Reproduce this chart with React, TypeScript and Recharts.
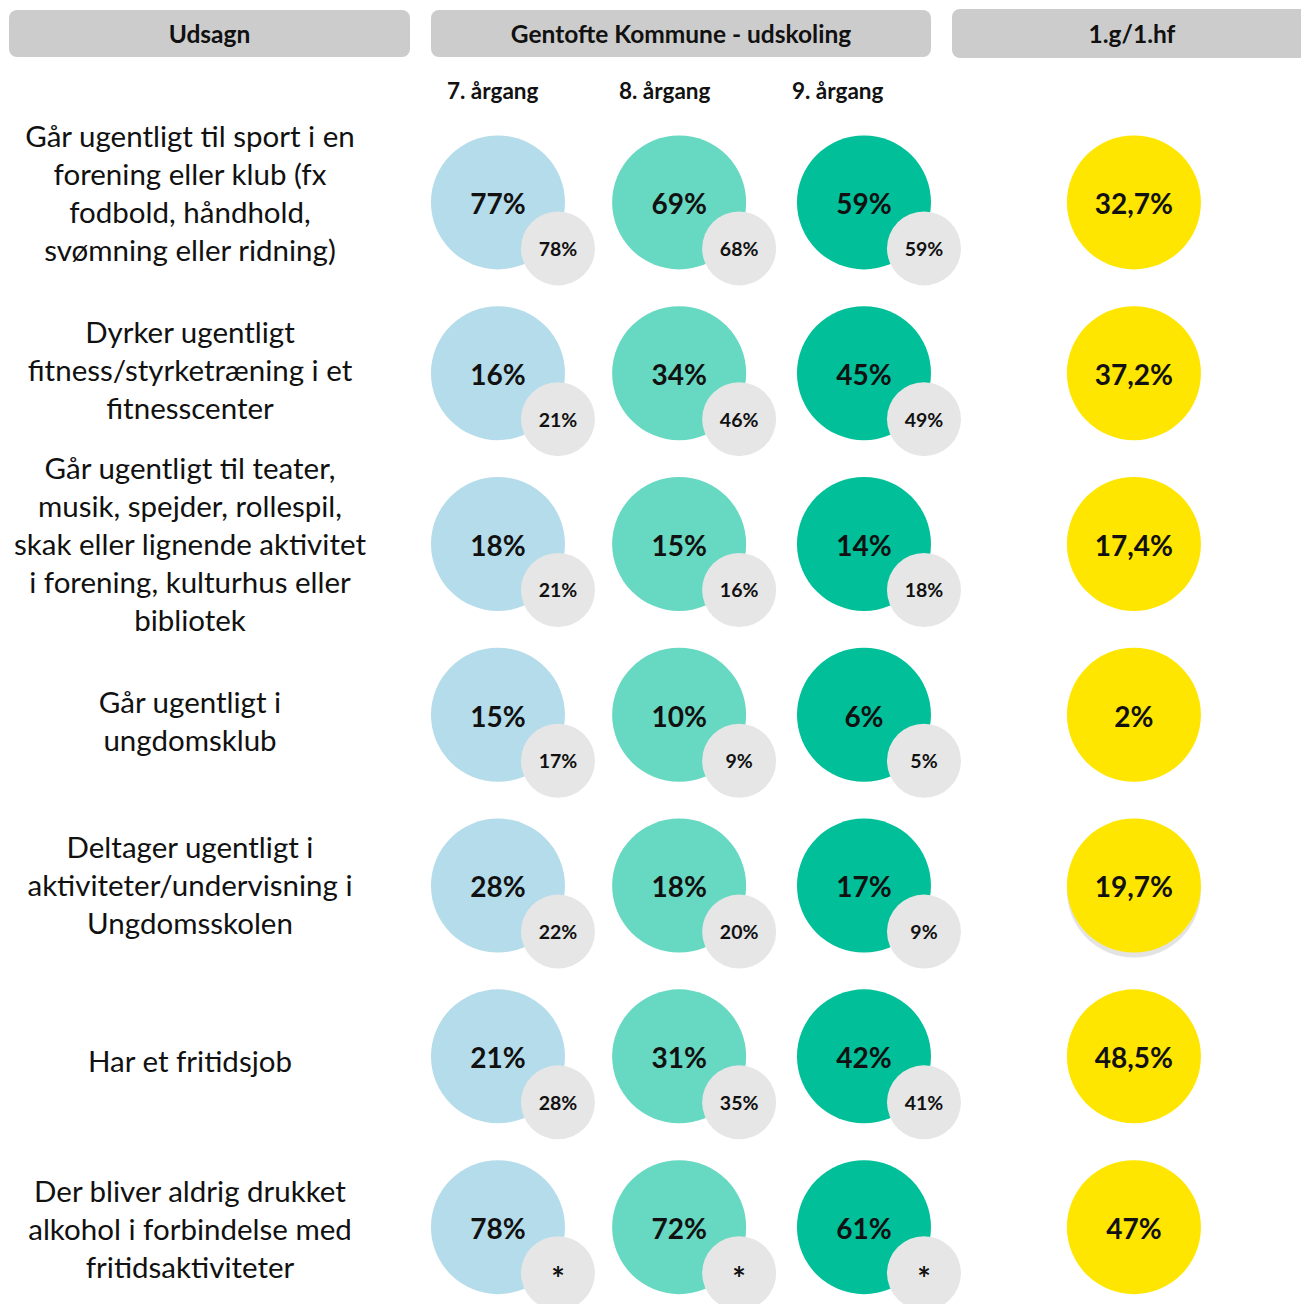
import { ScatterChart, Scatter, XAxis, YAxis } from 'recharts';

// Udsagn (rækker), linjeskift med \n
const statements = [
    'Går ugentligt til sport i en\nforening eller klub (fx\nfodbold, håndhold,\nsvømning eller ridning)',
    'Dyrker ugentligt\nfitness/styrketræning i et\nfitnesscenter',
    'Går ugentligt til teater,\nmusik, spejder, rollespil,\nskak eller lignende aktivitet\ni forening, kulturhus eller\nbibliotek',
    'Går ugentligt i\nungdomsklub',
    'Deltager ugentligt i\naktiviteter/undervisning i\nUngdomsskolen',
    'Har et fritidsjob',
    'Der bliver aldrig drukket\nalkohol i forbindelse med\nfritidsaktiviteter',
];

const grades = ['7. årgang', '8. årgang', '9. årgang'];

// Gentofte Kommune - udskoling (%)
const grade7 = [77, 16, 18, 15, 28, 21, 78];
const grade8 = [69, 34, 15, 10, 18, 31, 72];
const grade9 = [59, 45, 14, 6, 17, 42, 61];

// sammenligningstal (grå cirkler), null = "*"
const compare7 = [78, 21, 21, 17, 22, 28, null];
const compare8 = [68, 46, 16, 9, 20, 35, null];
const compare9 = [59, 49, 18, 5, 9, 41, null];

// 1.g/1.hf (%)
const gymnasium = [32.7, 37.2, 17.4, 2, 19.7, 48.5, 47];

const headers = ['Udsagn', 'Gentofte Kommune - udskoling', '1.g/1.hf'];

const COLORS = ['#b5dcea', '#67d8c1', '#00bf99'];
const YELLOW = '#ffe600';
const GREY = '#e6e6e6';
const FONT = 'Lato, "Open Sans", sans-serif';

// kolonne-placering på x-aksen (enheder, ikke pixels)
const GRADE_SLOTS = [0, 0.99, 2];
const GYM_SLOT = 3.475;

// tekstblokkene i venstre kolonne sidder ikke helt centreret i originalen
const LABEL_NUDGE = [-8, -2, 1, 7, 0, 6, 3];

const fmt = (v: number | null) => (v === null ? '*' : `${String(v).replace('.', ',')}%`);

const toPoints = (values: (number | null)[], slot: number) =>
    values.map((v, i) => ({ x: slot, y: i, label: fmt(v), row: i }));

function BigCircle(fill: string, shadow = false) {
    return (props: any) => {
        const { cx, cy, payload } = props;
        return (
            <g>
                {shadow && payload.row === 4 && <circle cx={cx} cy={cy + 5} r={67} fill="#e3e3e3" />}
                <circle cx={cx} cy={cy} r={67} fill={fill} />
                <text x={cx} y={cy} dy="0.42em" textAnchor="middle" fontFamily={FONT} fontWeight={700} fontSize={28} fill="#111">
                    {payload.label}
                </text>
            </g>
        );
    };
}

function SmallCircle(props: any) {
    const { cx, cy, payload } = props;
    const x = cx + 60;
    const y = cy + 46;
    const star = payload.label === '*';
    return (
        <g>
            <circle cx={x} cy={y} r={37} fill={GREY} />
            <text x={x} y={y} dy={star ? '0.55em' : '0.38em'} textAnchor="middle" fontFamily={FONT} fontWeight={700} fontSize={star ? 32 : 19.5} fill="#111">
                {payload.label}
            </text>
        </g>
    );
}

function StatementTick(props: any) {
    const { y, payload } = props;
    const lines = statements[payload.value].split('\n');
    const lh = 38;
    return (
        <text x={190} y={y + LABEL_NUDGE[payload.value]} textAnchor="middle" fontFamily={FONT} fontSize={29.5} fill="#111">
            {lines.map((line, i) => (
                <tspan key={i} x={190} dy={i === 0 ? -((lines.length - 1) / 2) * lh + 10 : lh}>
                    {line}
                </tspan>
            ))}
        </text>
    );
}

const headerBox = (left: number, width: number, top: number, height: number): React.CSSProperties => ({
    position: 'absolute', left, top, width, height, background: '#cccccc', borderRadius: 8,
    display: 'flex', alignItems: 'center', justifyContent: 'center',
    fontWeight: 700, fontSize: 24.5, color: '#111',
});

function App() {
    const gradeSeries = [grade7, grade8, grade9];
    const compareSeries = [compare7, compare8, compare9];
    return (
        <div style={{ position: 'absolute', left: 0, top: 0, width: 1301, height: 1304, background: '#fff', fontFamily: FONT, overflow: 'hidden' }}>
            <div style={headerBox(9, 401, 10, 47)}>{headers[0]}</div>
            <div style={headerBox(431, 500, 10, 47)}>{headers[1]}</div>
            <div style={headerBox(952, 360, 9, 49)}>{headers[2]}</div>
            {grades.map((g, i) => (
                <div key={g} style={{ position: 'absolute', left: [447, 619, 792][i], top: 77, fontWeight: 700, fontSize: 22.5, color: '#111' }}>
                    {g}
                </div>
            ))}
            <ScatterChart width={1301} height={1304} margin={{ top: 0, right: 0, bottom: 0, left: 0 }}>
                <XAxis type="number" dataKey="x" domain={[-0.426, 4.388]} hide allowDataOverflow />
                <YAxis
                    type="number"
                    dataKey="y"
                    domain={[-1.185, 6.45]}
                    reversed
                    width={420}
                    axisLine={false}
                    tickLine={false}
                    ticks={[0, 1, 2, 3, 4, 5, 6]}
                    interval={0}
                    tick={<StatementTick />}
                    allowDataOverflow
                />
                {gradeSeries.map((vals, i) => (
                    <Scatter key={`g${i}`} data={toPoints(vals, GRADE_SLOTS[i])} shape={BigCircle(COLORS[i])} isAnimationActive={false} />
                ))}
                {compareSeries.map((vals, i) => (
                    <Scatter key={`c${i}`} data={toPoints(vals, GRADE_SLOTS[i])} shape={SmallCircle} isAnimationActive={false} />
                ))}
                <Scatter data={toPoints(gymnasium, GYM_SLOT)} shape={BigCircle(YELLOW, true)} isAnimationActive={false} />
            </ScatterChart>
        </div>
    );
}

export default App;
